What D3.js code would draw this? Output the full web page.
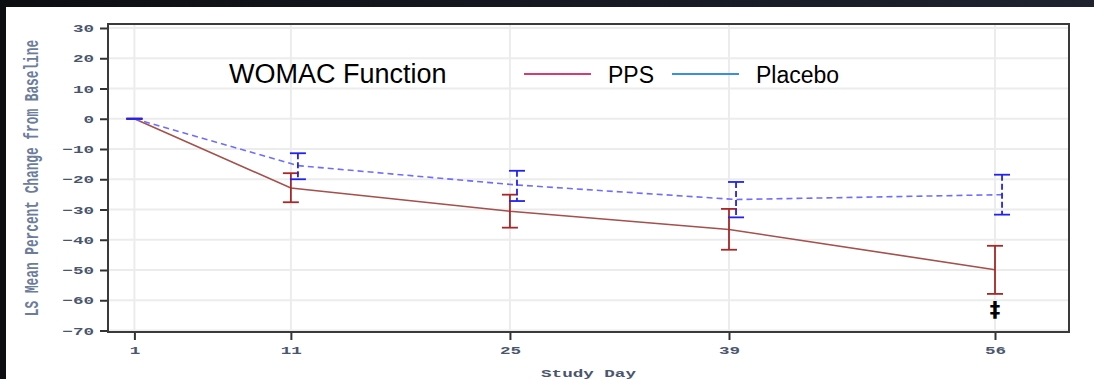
<!DOCTYPE html>
<html>
<head>
<meta charset="utf-8">
<script src="https://cdn.jsdelivr.net/npm/d3@7"></script>
<style>
  html, body { margin: 0; padding: 0; background: #fff; overflow: hidden; }
  svg { display: block; }
</style>
</head>
<body>
<div id="chart"></div>
<script>
// study days and LS mean % change from baseline (with error bar limits)
const days = [1, 11, 25, 39, 56];
const ppsMean = [0, -22.9, -30.6, -36.6, -49.9];
const ppsLower = [0, -27.6, -36.0, -43.3, -57.9];
const ppsUpper = [0, -18.0, -25.1, -29.8, -42.0];
const placeboMean = [0, -15.5, -21.9, -26.7, -25.1];
const placeboLower = [0, -20.0, -27.2, -32.6, -31.7];
const placeboUpper = [0, -11.4, -17.2, -20.9, -18.5];
const yTicks = [30, 20, 10, 0, -10, -20, -30, -40, -50, -60, -70];
const seriesNames = ["PPS", "Placebo"];
const sigMark = { day: 56, value: -63.5, label: "\u2021" };

const W = 1094, H = 379;
const margin = { top: 24, right: 25, bottom: 47, left: 108 };
const plotW = W - margin.left - margin.right;
const plotH = H - margin.top - margin.bottom;
const stretch = 1.6;   // the source's axis text is stretched sideways
const dodge = 0.45;    // placebo offset, in days

const svg = d3.select("#chart").append("svg")
  .attr("width", W).attr("height", H);

// dark slide edges (top band, left strip) on white
const defs = svg.append("defs");
const grad = defs.append("linearGradient").attr("id", "band");
grad.append("stop").attr("offset", "0%").attr("stop-color", "#0c0e12");
grad.append("stop").attr("offset", "100%").attr("stop-color", "#1f2330");
svg.append("rect").attr("width", W).attr("height", H).attr("fill", "#fff");
svg.append("rect").attr("width", W).attr("height", 7).attr("fill", "url(#band)");
svg.append("rect").attr("width", 6).attr("height", H).attr("fill", "#0c0e12");

const x = d3.scaleLinear().domain([1, 56]).range([134.4 - margin.left, 995 - margin.left]);
const y = d3.scaleLinear().domain([-70, 30]).range([330.5 - margin.top, 28 - margin.top]);

const g = svg.append("g").attr("transform", `translate(${margin.left},${margin.top})`);

// grid
g.append("g").selectAll("line.gx").data(days).join("line")
  .attr("x1", d => x(d)).attr("x2", d => x(d))
  .attr("y1", 0).attr("y2", plotH)
  .attr("stroke", "#ececec").attr("stroke-width", 2);
g.append("g").selectAll("line.gy").data(yTicks).join("line")
  .attr("x1", 0).attr("x2", plotW)
  .attr("y1", d => y(d)).attr("y2", d => y(d))
  .attr("stroke", "#ececec").attr("stroke-width", 2);

// axes
const axisFont = "'Liberation Mono', 'Courier New', monospace";
const yAxis = g.append("g").call(d3.axisLeft(y).tickValues(yTicks).tickSize(8).tickSizeOuter(0));
const xAxis = g.append("g").attr("transform", `translate(0,${plotH})`)
  .call(d3.axisBottom(x).tickValues(days).tickSize(8).tickSizeOuter(0).tickFormat(d3.format("d")));
[yAxis, xAxis].forEach(a => {
  a.select(".domain").remove();
  a.selectAll(".tick line").attr("stroke", "#333").attr("stroke-width", 2);
  a.selectAll(".tick text")
    .attr("font-family", axisFont).attr("font-weight", "bold")
    .attr("font-size", 11).attr("fill", "#4a566e");
});
yAxis.selectAll(".tick text")
  .attr("x", -14 / stretch)
  .attr("transform", `scale(${stretch},1)`);
xAxis.selectAll(".tick text")
  .attr("y", 14)
  .attr("text-anchor", "middle")
  .attr("transform", `scale(${stretch},1)`)
  .each(function(d) { d3.select(this).attr("x", 0); });

// frame
g.append("rect").attr("width", plotW).attr("height", plotH)
  .attr("fill", "none").attr("stroke", "#3a3a3a").attr("stroke-width", 2);

// axis titles
svg.append("text")
  .attr("transform", `translate(38,${margin.top + plotH / 2}) rotate(-90) scale(1,${stretch})`)
  .attr("text-anchor", "middle")
  .attr("font-family", axisFont).attr("font-weight", "bold").attr("font-size", 12.8)
  .attr("fill", "#6c7d9a")
  .text("LS Mean Percent Change from Baseline");
svg.append("text")
  .attr("transform", `translate(${margin.left + plotW / 2},377) scale(${stretch},1)`)
  .attr("text-anchor", "middle")
  .attr("font-family", axisFont).attr("font-weight", "bold").attr("font-size", 11)
  .attr("fill", "#4a566e")
  .text("Study Day");

// series
const series = [
  { name: seriesNames[0], mean: ppsMean, lo: ppsLower, hi: ppsUpper, off: 0,
    line: "#a4504c", bar: "#a82828", dash: null, barDash: null },
  { name: seriesNames[1], mean: placeboMean, lo: placeboLower, hi: placeboUpper, off: dodge,
    line: "#6d6dff", bar: "#2222f0", dash: "6,4", barDash: "6,3" }
];
const lineGen = d3.line().x(d => x(d.day)).y(d => y(d.v));
const capHalf = 8;

series.forEach(s => {
  const pts = days.map((d, i) => ({ day: d + (i === 0 ? 0 : s.off), v: s.mean[i], lo: s.lo[i], hi: s.hi[i] }));
  g.append("path").datum(pts)
    .attr("d", lineGen).attr("fill", "none")
    .attr("stroke", s.line).attr("stroke-width", 1.6)
    .attr("stroke-dasharray", s.dash);
  const eb = g.append("g").selectAll("g").data(pts).join("g");
  eb.append("line")
    .attr("x1", d => x(d.day)).attr("x2", d => x(d.day))
    .attr("y1", d => y(d.hi)).attr("y2", d => y(d.lo))
    .attr("stroke", s.bar).attr("stroke-width", 1.8)
    .attr("stroke-dasharray", s.barDash);
  ["hi", "lo"].forEach(k => {
    eb.append("line")
      .attr("x1", d => x(d.day) - capHalf).attr("x2", d => x(d.day) + capHalf)
      .attr("y1", d => y(d[k])).attr("y2", d => y(d[k]))
      .attr("stroke", s.bar).attr("stroke-width", 1.8);
  });
});

// significance mark
g.append("text")
  .attr("x", x(sigMark.day)).attr("y", y(sigMark.value))
  .attr("text-anchor", "middle").attr("dominant-baseline", "middle")
  .attr("font-family", "'DejaVu Sans', sans-serif").attr("font-size", 21).attr("font-weight", "bold")
  .attr("fill", "#000").text(sigMark.label);

// title and legend
svg.append("text")
  .attr("x", 229).attr("y", 83)
  .attr("font-family", "'Liberation Sans', Arial, sans-serif").attr("font-size", 27)
  .attr("fill", "#000").text("WOMAC Function");
const legendColors = ["#d63c6c", "#3a8fe0"];
const legendX = [524, 672];
seriesNames.forEach((n, i) => {
  svg.append("line")
    .attr("x1", legendX[i]).attr("x2", legendX[i] + 67)
    .attr("y1", 74).attr("y2", 74)
    .attr("stroke", legendColors[i]).attr("stroke-width", 2);
  svg.append("text")
    .attr("x", legendX[i] + 84).attr("y", 83)
    .attr("font-family", "'Liberation Sans', Arial, sans-serif").attr("font-size", 23)
    .attr("fill", "#000").text(n);
});
</script>
</body>
</html>
